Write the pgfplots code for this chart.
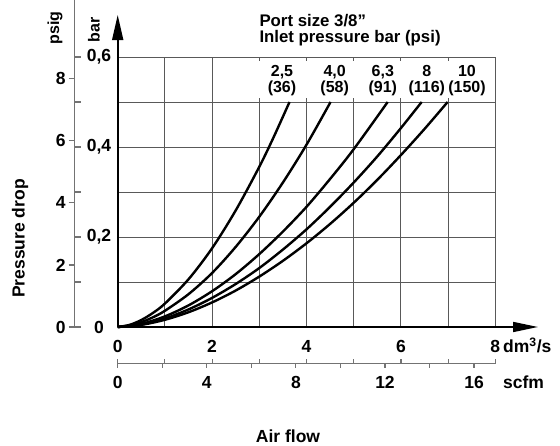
\documentclass[border=0pt]{standalone}
\usepackage{fontspec}
\setmainfont{Liberation Sans}
\usepackage{pgfplots}
\pgfplotsset{compat=1.18}
\usetikzlibrary{arrows.meta}
\colorlet{gridc}{black!65}
\colorlet{scalec}{black!55}
\newcommand\lbl{\fontsize{17.5}{18}\selectfont\bfseries}
\newcommand\slbl{\fontsize{16}{17}\selectfont\bfseries}
\newcommand\tlbl{\fontsize{16.8}{17}\selectfont\bfseries}

\begin{document}
\begin{tikzpicture}
\path[use as bounding box] (-117.7pt,-119pt) rectangle (442.3pt,327pt);
\begin{axis}[at={(0pt,0pt)},anchor=south west,scale only axis,
  width=377.6pt,height=270pt,
  xmin=0,xmax=8,ymin=0,ymax=0.6,
  xtick={1,2,3,4,5,6,7,8},ytick={0.1,0.2,0.3,0.4,0.5,0.6},
  xticklabels={},yticklabels={},major tick length=0pt,
  grid=major,grid style={gridc,line width=0.9pt},
  axis line style={draw=none},clip=false,
  curve/.style={black,line width=2.4pt,no marks,smooth}]
% room for the inlet pressure labels
\fill[white] (axis cs:2.96,0.509) rectangle (axis cs:7.975,0.591);
% 2,5 bar
\addplot[curve] coordinates {(0,0)(0.25,0.0046)(0.5,0.0155)(0.75,0.0315)(1,0.052)(1.5,0.106)(2,0.175)(2.5,0.259)(3,0.356)(3.3,0.421)(3.64,0.5)};
% 4,0 bar
\addplot[curve] coordinates {(0,0)(0.25,0.0032)(0.5,0.0107)(0.75,0.0217)(1,0.036)(1.5,0.0729)(2,0.12)(2.5,0.178)(3,0.245)(3.5,0.321)(4,0.405)(4.51,0.5)};
% 6,3 bar
\addplot[curve] coordinates {(0,0)(0.5,0.007)(1,0.0236)(1.5,0.048)(2,0.0795)(2.5,0.1175)(3,0.162)(3.5,0.212)(4,0.267)(4.5,0.329)(5,0.395)(5.72,0.5)};
% 8 bar
\addplot[curve] coordinates {(0,0)(0.5,0.0057)(1,0.019)(1.5,0.039)(2,0.0647)(2.5,0.0955)(3,0.131)(3.5,0.172)(4,0.217)(4.5,0.267)(5,0.321)(5.5,0.379)(6,0.442)(6.44,0.5)};
% 10 bar
\addplot[curve] coordinates {(0,0)(0.5,0.0047)(1,0.016)(1.5,0.0328)(2,0.0546)(2.5,0.081)(3,0.112)(3.5,0.147)(4,0.186)(4.5,0.229)(5,0.276)(5.5,0.327)(6,0.382)(6.5,0.44)(6.99,0.5)};
\draw[line width=1.6pt,-{Triangle[length=25pt,width=11pt]}] (axis cs:0,0) -- (axis cs:0,0.6933);
\draw[line width=1.6pt,-{Triangle[length=25pt,width=10pt]}] (axis cs:0,0) -- (axis cs:8.905,0);
\end{axis}

% pressure scales (psig left, bar right)
\draw[scalec,line width=1.2pt] (-43pt,0pt) -- (-43pt,327pt);
\foreach \p in {0,2,4,6,8} {
  \draw[scalec,line width=1.2pt] (-49pt,{31.026*\p*1pt}) -- (-43pt,{31.026*\p*1pt});
  \node[anchor=east,inner sep=0pt,font=\lbl] at (-52pt,{31.026*\p*1pt}) {\p};
}
\foreach \k in {0,...,6}
  \draw[scalec,line width=1.2pt] (-43pt,{45*\k*1pt}) -- (-37pt,{45*\k*1pt});
\foreach \k/\t in {0/0,2/{0,2},4/{0,4},6/{0,6}}
  \node[inner sep=0pt,font=\lbl] at (-18.7pt,{45*\k*1pt}) {\t};
\node[rotate=90,font=\slbl] at (-62.7pt,299pt) {psig};
\node[rotate=90,font=\slbl] at (-23.7pt,297pt) {bar};
\node[rotate=90,font=\lbl] at (-97.7pt,88.5pt) {Pressure drop};

% flow scales
\foreach \q in {0,2,4,6,8}
  \node[anchor=base,inner sep=0pt,font=\lbl] at ({47.2*\q*1pt},-26pt) {\q};
\node[anchor=base west,inner sep=0pt,font=\lbl] at (385.3pt,-26pt) {dm\textsuperscript{3}/s};
\draw[scalec,line width=1.2pt] (0pt,-36.3pt) -- (378.6pt,-36.3pt);
\foreach \q in {0,...,8}
  \draw[scalec,line width=1.2pt] ({47.2*\q*1pt},-36.3pt) -- ({47.2*\q*1pt},-32.3pt);
\foreach \s in {0,2,...,16}
  \draw[scalec,line width=1.2pt] ({22.274*\s*1pt},-36.3pt) -- ({22.274*\s*1pt},-41.3pt);
\foreach \s in {0,4,8,12,16}
  \node[anchor=base,inner sep=0pt,font=\lbl] at ({22.274*\s*1pt},-61.3pt) {\s};
\node[anchor=base west,inner sep=0pt,font=\lbl] at (385.3pt,-61.3pt) {scfm};
\node[anchor=base,inner sep=0pt,font=\lbl] at (170.3pt,-115.7pt) {Air flow};

% title and curve labels
\node[anchor=base west,inner sep=0pt,font=\tlbl] at (141.6pt,300.5pt) {Port size 3/8”};
\node[anchor=base west,inner sep=0pt,font=\tlbl] at (141.6pt,284pt) {Inlet pressure bar (psi)};
\foreach \x/\a/\b in {164.3/{2,5}/(36),217/{4,0}/(58),265.1/{6,3}/(91),309.1/8/(116),349.3/10/(150)} {
  \node[anchor=base,inner sep=0pt,font=\slbl] at (\x pt,250pt) {\a};
  \node[anchor=base,inner sep=0pt,font=\slbl] at (\x pt,234pt) {\b};
}
\end{tikzpicture}
\end{document}
